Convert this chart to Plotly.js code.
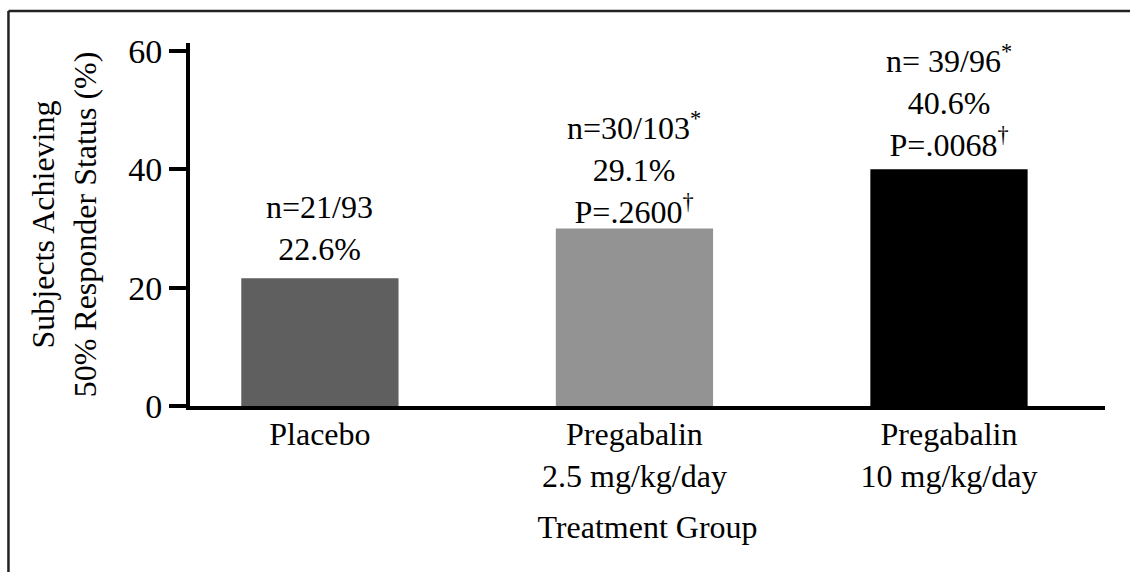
<!DOCTYPE html>
<html>
<head>
<meta charset="utf-8">
<script src="https://cdn.plot.ly/plotly-3.0.1.min.js"></script>
<style>
  html, body { margin: 0; padding: 0; background: #fff; }
  #chart { width: 1130px; height: 572px; }
</style>
</head>
<body>
<div id="chart"></div>
<script>
// ---- data ----
var categories = ['Placebo', 'Pregabalin<br>2.5 mg/kg/day', 'Pregabalin<br>10 mg/kg/day'];
var responderPct = [21.6, 30.0, 40.0];
var barLabels = [
  'n=21/93<br>22.6%',
  'n=30/103<sup>*</sup><br>29.1%<br>P=.2600<sup>†</sup>',
  'n= 39/96<sup>*</sup><br>40.6%<br>P=.0068<sup>†</sup>'
];
var barColors = ['#5f5f5f', '#939393', '#000000'];
var yTicks = [0, 20, 40, 60];
var xTitle = 'Treatment Group';
var yTitle = 'Subjects Achieving<br>50% Responder Status (%)';

var FONT = 'Liberation Serif, Times New Roman, serif';
var FS = 32;
var labelShift = [9, -4, 4];

var trace = {
  type: 'bar',
  x: categories,
  y: responderPct,
  width: 0.5,
  marker: { color: barColors, line: { width: 0 } },
  hoverinfo: 'skip'
};

var annotations = categories.map(function (c, i) {
  return {
    x: c, y: responderPct[i], xref: 'x', yref: 'y',
    text: barLabels[i], showarrow: false,
    xanchor: 'center', yanchor: 'bottom', yshift: labelShift[i],
    font: { family: FONT, size: FS, color: '#000' }
  };
});

var layout = {
  width: 1130, height: 572,
  margin: { l: 190, r: 25, t: 43, b: 166 },
  paper_bgcolor: '#fff', plot_bgcolor: '#fff',
  showlegend: false,
  font: { family: FONT, size: FS, color: '#000' },
  xaxis: {
    type: 'category',
    range: [-0.413, 2.496],
    showline: true, linecolor: '#000', linewidth: 4,
    ticks: '', showgrid: false, zeroline: false,
    ticklabelstandoff: -3,
    tickfont: { family: FONT, size: FS, color: '#000' },
    title: { text: xTitle, font: { family: FONT, size: FS, color: '#000' }, standoff: 24 }
  },
  yaxis: {
    range: [0, 61.35],
    tickvals: yTicks, ticktext: yTicks.map(String),
    showline: true, linecolor: '#000', linewidth: 4,
    ticks: 'outside', ticklen: 17, tickwidth: 4, tickcolor: '#000',
    showgrid: false, zeroline: false,
    tickfont: { family: FONT, size: FS + 2, color: '#000' },
    title: { text: yTitle, font: { family: FONT, size: FS, color: '#000' }, standoff: 23 }
  },
  annotations: annotations,
  shapes: [
    { type: 'line', xref: 'paper', yref: 'paper', x0: -0.1984, x1: -0.1984, y0: -0.5, y1: 1.0882,
      line: { color: '#222', width: 2.5 } },
    { type: 'line', xref: 'paper', yref: 'paper', x0: -0.1984, x1: 1.05, y0: 1.0882, y1: 1.0882,
      line: { color: '#222', width: 2.5 } }
  ]
};

Plotly.newPlot('chart', [trace], layout, { displayModeBar: false, staticPlot: true });
</script>
</body>
</html>
